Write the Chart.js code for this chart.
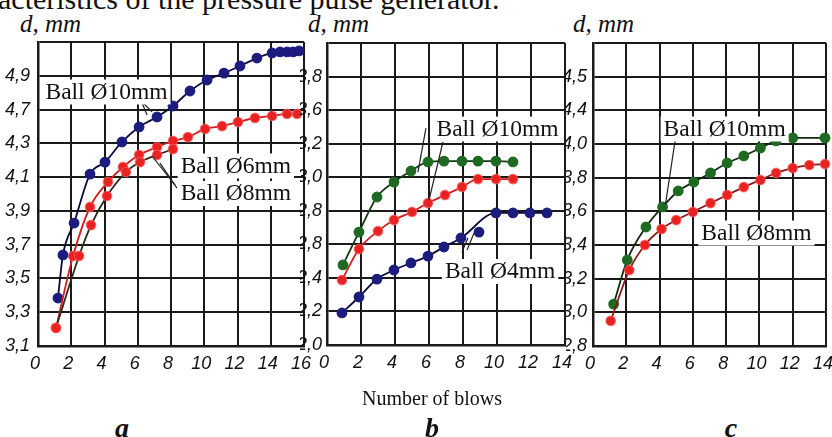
<!DOCTYPE html>
<html>
<head>
<meta charset="utf-8">
<script src="https://cdn.jsdelivr.net/npm/chart.js@4"></script>
<style>
html, body { margin: 0; padding: 0; background: #fff; }
#wrap { position: relative; width: 832px; height: 437px; overflow: hidden; background: #fff; }
canvas { position: absolute; top: 0; }
.t { position: absolute; font-family: "Liberation Serif", serif; color: #111; white-space: nowrap; line-height: 1; }
.dmm { font-style: italic; font-size: 25px; top: 11px; }
.lt { font-style: italic; font-weight: bold; font-size: 28px; top: 414px; transform: translateX(-50%); }
</style>
</head>
<body>
<div id="wrap">
  <div class="t" style="left:-2px; top:-16px; font-size:30px;">acteristics of the pressure pulse generator.</div>
  <div class="t dmm" style="left:20px;">d, mm</div>
  <div class="t dmm" style="left:308px;">d, mm</div>
  <div class="t dmm" style="left:573px;">d, mm</div>
  <canvas id="ca" width="312" height="385" style="left:0px"></canvas>
  <canvas id="cb" width="272" height="385" style="left:300px"></canvas>
  <canvas id="cc" width="266" height="385" style="left:566px"></canvas>
  <div class="t" style="left:432px; top:388px; font-size:20px; transform:translateX(-50%);">Number of blows</div>
  <div class="t lt" style="left:122px;">a</div>
  <div class="t lt" style="left:432px;">b</div>
  <div class="t lt" style="left:731px;">c</div>
</div>
<script>
// ---- panel a : ball 10 / 6 / 8 mm ----
const A_YTICKS = ['3,1', '3,3', '3,5', '3,7', '3,9', '4,1', '4,3', '4,7', '4,9', ''];
const A_X10 = [1.2, 1.5, 2.17, 3.13, 4.03, 5.05, 6.08, 7.16, 8.12, 9.14, 10.17, 11.19, 12.15, 13.17, 14.08, 14.56, 14.98, 15.34, 15.7];
const A_Y10 = [3.384, 3.639, 3.828, 4.118, 4.189, 4.308, 4.397, 4.456, 4.521, 4.61, 4.675, 4.716, 4.758, 4.805, 4.835, 4.841, 4.841, 4.841, 4.847];
const A_X6 = [1.08, 2.11, 3.13, 4.21, 5.11, 6.08, 7.16, 8.12, 9.02, 10.05, 11.07, 12.03, 13.05, 14.08, 14.98, 15.58];
const A_Y6 = [3.207, 3.633, 3.923, 4.071, 4.16, 4.231, 4.278, 4.314, 4.337, 4.385, 4.402, 4.426, 4.45, 4.462, 4.474, 4.474];
const A_X8 = [1.08, 2.47, 3.19, 4.15, 5.29, 6.14, 7.16, 8.12];
const A_Y8 = [3.207, 3.633, 3.816, 3.988, 4.13, 4.189, 4.231, 4.266];

// ---- panel b : ball 10 / 8 / 4 mm ----
const B_YTICKS = ['2,0', '2,2', '2,4', '2,8', '2,8', '3,0', '3,2', '3,6', '3,8', ''];
const B_X10 = [0.94, 1.88, 2.94, 3.94, 4.94, 5.94, 6.88, 7.94, 8.88, 9.94, 10.94];
const B_Y10 = [2.477, 2.673, 2.882, 2.971, 3.037, 3.091, 3.096, 3.096, 3.096, 3.096, 3.091];
const B_X8 = [0.88, 1.88, 3.0, 3.94, 5.0, 5.94, 6.94, 7.94, 8.88, 9.94, 10.94];
const B_Y8 = [2.387, 2.572, 2.679, 2.745, 2.793, 2.846, 2.894, 2.942, 2.989, 2.989, 2.989];
const B_X4 = [0.88, 1.88, 2.94, 3.94, 4.94, 5.94, 6.88, 7.88, 9.94, 10.94, 11.94, 12.94];
const B_Y4 = [2.191, 2.286, 2.393, 2.447, 2.489, 2.53, 2.584, 2.638, 2.787, 2.787, 2.787, 2.787];
const B_X4_OFF = [8.94];
const B_Y4_OFF = [2.673];

// ---- panel c : ball 10 / 8 mm ----
const C_YTICKS = ['2,8', '3,0', '3,2', '3,4', '3,6', '3,8', '4,0', '4,4', '4,5', ''];
const C_X10 = [1.24, 2.06, 3.18, 4.18, 5.12, 6.06, 7.06, 8.06, 9.06, 10.06, 11.0, 12.0, 13.94];
const C_Y10 = [3.049, 3.311, 3.507, 3.626, 3.721, 3.774, 3.828, 3.887, 3.929, 3.976, 4.018, 4.036, 4.036];
const C_X8 = [1.06, 2.18, 3.12, 4.12, 5.0, 6.0, 7.06, 8.06, 9.06, 10.06, 11.0, 12.0, 13.0, 13.94];
const C_Y8 = [2.949, 3.251, 3.4, 3.495, 3.548, 3.596, 3.649, 3.697, 3.744, 3.786, 3.828, 3.857, 3.875, 3.881];

const BLUE = '#1c1c7e', RED = '#e62222', GREEN = '#1f6a22';
const GRID = '#1a1a1a';
const TICK_FONT = {family: '"Liberation Sans", sans-serif', size: 18, style: 'italic'};

function series(xs, ys, dot, line, extra) {
  return Object.assign({
    data: xs.map((x, i) => ({x, y: ys[i]})),
    borderColor: line,
    borderWidth: 1.8,
    pointRadius: 4.8,
    pointBackgroundColor: dot,
    pointBorderColor: dot === RED ? 'rgba(255,90,90,0.7)' : dot,
    pointBorderWidth: 1.2,
    cubicInterpolationMode: 'monotone',
    clip: false
  }, extra || {});
}

// labels in white boxes + leader lines, placed in data units
const notesPlugin = {
  id: 'notes',
  afterDatasetsDraw(chart, args, opts) {
    const {ctx, scales: {x, y}} = chart;
    ctx.save();
    ctx.strokeStyle = '#222';
    ctx.lineWidth = 1.2;
    (opts.leaders || []).forEach(l => {
      ctx.beginPath();
      ctx.moveTo(x.getPixelForValue(l[0]), y.getPixelForValue(l[1]));
      ctx.lineTo(x.getPixelForValue(l[2]), y.getPixelForValue(l[3]));
      ctx.stroke();
    });
    ctx.font = '23.5px "Liberation Serif", serif';
    ctx.textAlign = 'center';
    ctx.textBaseline = 'middle';
    (opts.labels || []).forEach(n => {
      const w = ctx.measureText(n.text).width;
      const cx = x.getPixelForValue(n.x), cy = y.getPixelForValue(n.y);
      ctx.fillStyle = '#fff';
      ctx.fillRect(cx - w / 2 - 3, cy - 12, w + 6, 25);
      ctx.fillStyle = '#111';
      ctx.fillText(n.text, cx, cy + 1);
    });
    ctx.restore();
  }
};

function panel(id, xMax, yMin, yMax, yTicks, datasets, notes, box) {
  return new Chart(document.getElementById(id), {
    type: 'line',
    data: {datasets},
    options: {
      responsive: false,
      animation: false,
      devicePixelRatio: 1,
      layout: {padding: {left: 0, right: box.right, top: box.top, bottom: 0}},
      plugins: {legend: {display: false}, tooltip: {enabled: false}, notes},
      scales: {
        x: {
          type: 'linear', min: 0, max: xMax,
          afterFit: s => { s.height = box.xh; s.paddingLeft = 0; s.paddingRight = 0; },
          grid: {color: GRID, lineWidth: 2, drawTicks: false},
          border: {color: GRID, width: 2.5},
          ticks: {stepSize: 2, padding: 7, labelOffset: -3, color: '#111', font: TICK_FONT, maxRotation: 0, autoSkip: false}
        },
        y: {
          type: 'linear', min: yMin, max: yMax,
          afterFit: s => { s.width = box.yw; s.paddingTop = 0; s.paddingBottom = 0; },
          grid: {color: GRID, lineWidth: 2, drawTicks: false},
          border: {color: GRID, width: 2.5},
          ticks: {stepSize: 0.2, padding: box.ypad, color: '#111', font: TICK_FONT, autoSkip: false,
                  callback: (v, i) => yTicks[i]}
        }
      }
    },
    plugins: [notesPlugin]
  });
}

panel('ca', 16, 3.1, 4.9, A_YTICKS, [
  series(A_X8, A_Y8, RED, '#2a2a1a'),
  series(A_X6, A_Y6, RED, '#d41c1c'),
  series(A_X10, A_Y10, BLUE, '#0c0c3c')
], {
  labels: [
    {text: 'Ball Ø10mm', x: 4.12, y: 4.607},
    {text: 'Ball Ø6mm', x: 11.9, y: 4.169},
    {text: 'Ball Ø8mm', x: 11.9, y: 4.006}
  ],
  leaders: [[6.26, 4.539, 6.56, 4.468], [6.32, 4.539, 6.86, 4.486], [6.86, 4.225, 8.24, 4.053], [7.34, 4.183, 8.36, 4.035]]
}, {right: 8, top: 42, xh: 39, yw: 38, ypad: 8});

panel('cb', 14, 2.0, 3.8, B_YTICKS, [
  series(B_X4, B_Y4, BLUE, '#0c0c3c'),
  series(B_X4_OFF, B_Y4_OFF, BLUE, BLUE, {showLine: false}),
  series(B_X8, B_Y8, RED, '#d41c1c'),
  series(B_X10, B_Y10, GREEN, '#143814')
], {
  labels: [
    {text: 'Ball Ø10mm', x: 10.03, y: 3.29},
    {text: 'Ball Ø4mm', x: 10.18, y: 2.441}
  ],
  leaders: [[5.82, 3.293, 5.35, 3.031], [6.82, 3.21, 6.0, 2.864], [7.94, 2.554, 8.29, 2.638], [8.24, 2.566, 8.65, 2.667]]
}, {right: 7, top: 43, xh: 40, yw: 27, ypad: 5});

panel('cc', 14, 2.8, 4.6, C_YTICKS, [
  series(C_X8, C_Y8, RED, '#8a1a1a'),
  series(C_X10, C_Y10, GREEN, '#102a10')
], {
  labels: [
    {text: 'Ball Ø10mm', x: 7.91, y: 4.092},
    {text: 'Ball Ø8mm', x: 9.82, y: 3.474}
  ],
  leaders: [[4.94, 4.024, 4.35, 3.638]]
}, {right: 1, top: 43, xh: 39, yw: 27, ypad: 6});
</script>
</body>
</html>
